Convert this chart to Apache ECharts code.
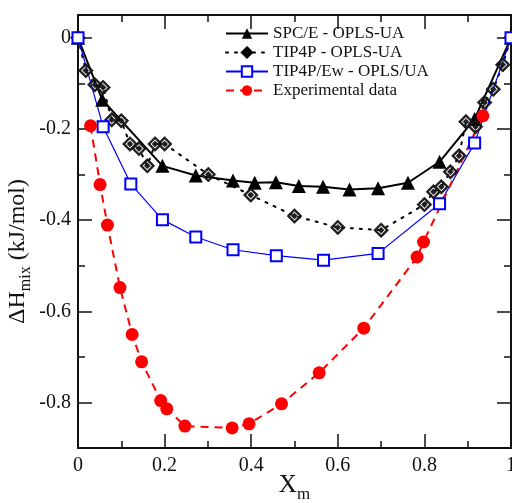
<!DOCTYPE html>
<html>
<head>
<meta charset="utf-8">
<script src="https://cdn.jsdelivr.net/npm/echarts@6/dist/echarts.min.js"></script>
<style>
  html, body { margin: 0; padding: 0; background: #fff; }
  #chart { width: 512px; height: 503px; }
</style>
</head>
<body>
<div id="chart"></div>
<script>
// SPC/E - OPLS-UA
const spceX = [0, 0.056, 0.195, 0.272, 0.358, 0.408, 0.457, 0.51, 0.566, 0.627, 0.693, 0.762, 0.835, 0.916, 1];
const spceY = [0, -0.136, -0.281, -0.302, -0.313, -0.318, -0.317, -0.325, -0.327, -0.333, -0.330, -0.318, -0.272, -0.178, 0];

// TIP4P - OPLS-UA
const tip4pX = [0, 0.018, 0.039, 0.058, 0.078, 0.1, 0.12, 0.141, 0.16, 0.178, 0.2, 0.301, 0.399, 0.5, 0.6, 0.7,
  0.8, 0.821, 0.839, 0.86, 0.88, 0.896, 0.918, 0.939, 0.959, 0.981, 1];
const tip4pY = [0, -0.072, -0.103, -0.109, -0.18, -0.182, -0.233, -0.243, -0.281, -0.233, -0.233, -0.3, -0.345, -0.391, -0.416, -0.422,
  -0.366, -0.338, -0.327, -0.294, -0.259, -0.184, -0.195, -0.142, -0.113, -0.059, 0];

// TIP4P/Ew - OPLS/UA
const ewX = [0, 0.058, 0.122, 0.195, 0.272, 0.358, 0.458, 0.567, 0.693, 0.835, 0.916, 1];
const ewY = [0, -0.195, -0.321, -0.399, -0.437, -0.465, -0.478, -0.488, -0.473, -0.364, -0.231, 0];

// Experimental data
const expX = [0.029, 0.051, 0.068, 0.097, 0.125, 0.147, 0.191, 0.205, 0.247, 0.356, 0.395, 0.47, 0.557, 0.66, 0.783, 0.798, 0.935];
const expY = [-0.193, -0.322, -0.411, -0.548, -0.651, -0.711, -0.796, -0.814, -0.852, -0.856, -0.847, -0.803, -0.735, -0.637, -0.481, -0.448, -0.171];

const yMajor = [-0.8, -0.6, -0.4, -0.2, 0];
const yMinor = [-0.9, -0.7, -0.5, -0.3, -0.1];

const pairs = (xs, ys) => xs.map((x, i) => [x, ys[i]]);

const FONT = 'Liberation Serif';
const INK = '#111';
// diamond with a hollow ring and a filled core (patterned look)
const DIAMOND = 'path://M0,-10L10,0L0,10L-10,0Z M0,-6.5L-6.5,0L0,6.5L6.5,0Z M0,-4L4,0L0,4L-4,0Z';

let myChart = echarts.init(document.getElementById('chart'));

const xCommon = {
  type: 'value', min: 0, max: 1, interval: 0.2,
  axisLine: { show: true, onZero: false, lineStyle: { color: INK, width: 2 } },
  axisTick: { inside: true, length: 14, lineStyle: { color: INK, width: 1.5 } },
  minorTick: { show: true, splitNumber: 2, length: 7, lineStyle: { color: INK, width: 1.5 } },
  splitLine: { show: false },
  minorSplitLine: { show: false }
};

const yAxisOf = (pos, ticks, len, withLabels, withLine) => ({
  type: 'value', min: -0.9, max: 0.05, position: pos,
  axisLine: { show: withLine, onZero: false, lineStyle: { color: INK, width: 2 } },
  axisTick: { show: true, inside: true, length: len, customValues: ticks, lineStyle: { color: INK, width: 1.5 } },
  axisLabel: withLabels ? {
    show: true, customValues: ticks, margin: 7,
    fontFamily: FONT, fontSize: 20, color: INK
  } : { show: false },
  splitLine: { show: false }
});

let option = {
  animation: false,
  backgroundColor: '#fff',
  grid: { left: 78, right: 1, top: 15, bottom: 55, containLabel: false, outerBoundsMode: 'none' },
  legend: {
    orient: 'vertical',
    left: 220, top: 20,
    itemWidth: 42, itemHeight: 13, itemGap: 2,
    textStyle: { fontFamily: FONT, fontSize: 17, color: INK },
    data: ['SPC/E - OPLS-UA', 'TIP4P - OPLS-UA', 'TIP4P/Ew - OPLS/UA', 'Experimental data']
  },
  xAxis: [
    Object.assign({}, xCommon, {
      position: 'bottom',
      axisLabel: { margin: 8, fontFamily: FONT, fontSize: 20, color: INK },
      name: '{a|X}{b|m}', nameLocation: 'middle', nameGap: 25, nameMoveOverlap: false,
      nameTextStyle: {
        rich: {
          a: { fontFamily: FONT, fontSize: 25, color: INK, lineHeight: 25, verticalAlign: 'top' },
          b: { fontFamily: FONT, fontSize: 17, color: INK, lineHeight: 17, verticalAlign: 'top', padding: [13, 0, 0, 0] }
        }
      }
    }),
    Object.assign({}, xCommon, { position: 'top', axisLabel: { show: false } })
  ],
  yAxis: [
    Object.assign(yAxisOf('left', yMajor, 14, true, true), {
      name: '{a|ΔH}{b|mix}{a| (kJ/mol)}', nameLocation: 'middle', nameGap: 48, nameRotate: 90, nameMoveOverlap: false,
      nameTextStyle: {
        padding: [0, 40, 0, 0],
        rich: {
          a: { fontFamily: FONT, fontSize: 24, color: INK, lineHeight: 24, verticalAlign: 'top' },
          b: { fontFamily: FONT, fontSize: 16, color: INK, lineHeight: 16, verticalAlign: 'top', padding: [12, 0, 0, 0] }
        }
      }
    }),
    yAxisOf('left', yMinor, 7, false, false),
    yAxisOf('right', yMajor, 14, false, true),
    yAxisOf('right', yMinor, 7, false, false)
  ],
  series: [
    {
      name: 'SPC/E - OPLS-UA', type: 'line', xAxisIndex: 0, yAxisIndex: 0,
      data: pairs(spceX, spceY),
      symbol: 'triangle', symbolSize: 14,
      lineStyle: { color: '#000', width: 2 },
      itemStyle: { color: '#000' }
    },
    {
      name: 'TIP4P - OPLS-UA', type: 'line', xAxisIndex: 0, yAxisIndex: 0,
      data: pairs(tip4pX, tip4pY),
      symbol: DIAMOND, symbolSize: 15,
      lineStyle: { color: '#000', width: 2, type: [2, 7], cap: 'round' },
      itemStyle: { color: '#1e1e1e', borderColor: '#000', borderWidth: 0.5 }
    },
    {
      name: 'TIP4P/Ew - OPLS/UA', type: 'line', xAxisIndex: 0, yAxisIndex: 0,
      data: pairs(ewX, ewY),
      symbol: 'rect', symbolSize: 11,
      lineStyle: { color: '#0000ff', width: 1.2 },
      itemStyle: { color: '#fff', borderColor: '#0000ff', borderWidth: 2 }
    },
    {
      name: 'Experimental data', type: 'line', xAxisIndex: 0, yAxisIndex: 0,
      data: pairs(expX, expY),
      symbol: 'circle', symbolSize: 13,
      lineStyle: { color: '#ff0000', width: 2, type: [8, 6] },
      itemStyle: { color: '#ff0000' }
    }
  ]
};

myChart.setOption(option);
</script>
</body>
</html>
